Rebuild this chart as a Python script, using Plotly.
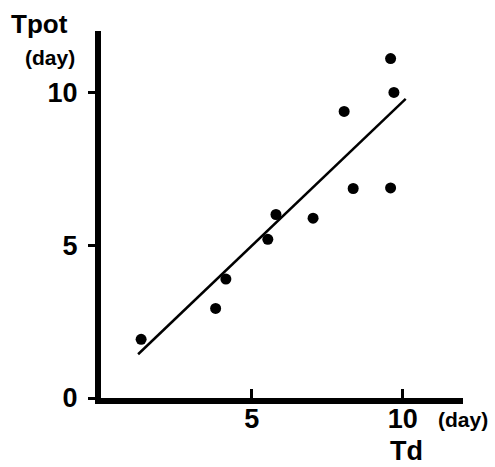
import plotly.graph_objects as go

td = [1.33, 3.80, 4.14, 5.53, 5.80, 7.03, 8.06, 8.36, 9.60, 9.60, 9.71]
tpot = [1.92, 2.93, 3.89, 5.19, 6.00, 5.88, 9.37, 6.85, 6.87, 11.10, 9.99]
fit_x = [1.23, 10.10]
fit_y = [1.43, 9.78]
x_ticks = [5, 10]
y_ticks = [0, 5, 10]

FONT = "Liberation Sans, Arial, sans-serif"

fig = go.Figure()
fig.add_trace(go.Scatter(x=fit_x, y=fit_y, mode="lines",
                         line=dict(color="black", width=2.5), hoverinfo="skip"))
fig.add_trace(go.Scatter(x=td, y=tpot, mode="markers",
                         marker=dict(color="black", size=11)))

fig.update_layout(
    width=495, height=467,
    margin=dict(l=101, r=32, t=31, b=69),
    plot_bgcolor="white", paper_bgcolor="white",
    showlegend=False,
    xaxis=dict(range=[0, 12], showgrid=False, zeroline=False,
               showline=True, linecolor="black", linewidth=6,
               ticks="inside", ticklen=9, tickwidth=3, tickcolor="black",
               tickvals=x_ticks, ticktext=[str(v) for v in x_ticks],
               tickfont=dict(family=FONT, size=27, color="black", weight="bold"),
               ticklabelstandoff=-8),
    yaxis=dict(range=[0, 12], showgrid=False, zeroline=False,
               showline=True, linecolor="black", linewidth=6,
               ticks="outside", ticklen=7, tickwidth=3, tickcolor="black",
               tickvals=y_ticks, ticktext=[str(v) for v in y_ticks],
               tickfont=dict(family=FONT, size=27, color="black", weight="bold"),
               ticklabelstandoff=5),
)

annots = [
    dict(text="Tpot", x=40, y=24, size=26),
    dict(text="(day)", x=50, y=57, size=21),
    dict(text="(day)", x=463, y=419, size=21),
    dict(text="Td", x=406, y=451, size=27),
]
for a in annots:
    fig.add_annotation(text=a["text"], xref="paper", yref="paper",
                       x=(a["x"] - 101) / 362, y=1 - (a["y"] - 31) / 367,
                       xanchor="center", yanchor="middle", showarrow=False,
                       font=dict(family=FONT, size=a["size"], color="black", weight="bold"))

fig.write_html("out.html", config={"displayModeBar": False},
               post_script="document.body.style.margin='0px';document.body.style.padding='0px';")
